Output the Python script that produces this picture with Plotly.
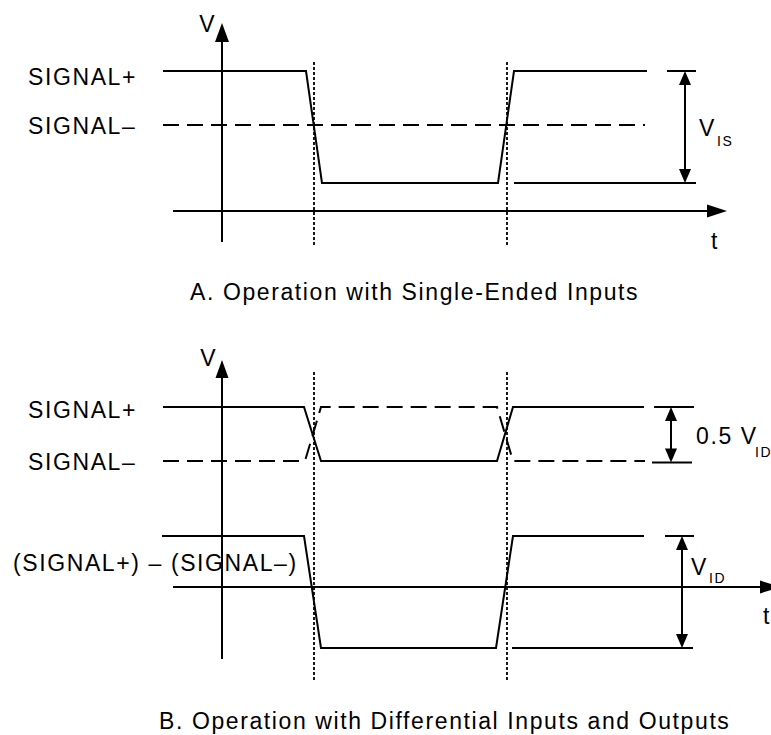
import plotly.graph_objects as go

# ---------------- Data (time: arbitrary units, 0 at the V axis; voltage: arbitrary units, 0 at the t axis)
# Panel A - single-ended inputs
t_a = [-5.9, 8.4, 10.0, 27.6, 29.2, 42.5]
signal_plus_a = [14.0, 14.0, 2.8, 2.8, 14.0, 14.0]
t_ref_a = [-5.9, 42.3]
signal_minus_a = [8.6, 8.6]

# Panel B - differential inputs and outputs
t_b_plus = [-5.9, 8.2, 9.9, 27.5, 29.1, 42.2]
signal_plus_b = [18.0, 18.0, 12.6, 12.6, 18.0, 18.0]
t_b_minus = [-5.9, 8.3, 9.9, 27.5, 29.1, 42.3]
signal_minus_b = [12.6, 12.6, 18.0, 18.0, 12.6, 12.6]
t_b_diff = [-6.0, 8.2, 9.9, 27.4, 29.1, 42.2]
signal_diff_b = [5.1, 5.1, -6.1, -6.1, 5.1, 5.1]

# crossing instants (dotted markers) and their vertical spans
t_cross = [9.2, 28.5]
cross_span_a = [-3.4, 14.9]
cross_span_b = [-9.3, 21.5]

# axis extents
axis_a_t = [-4.9, 50.5]
axis_a_v = [-3.1, 18.8]
axis_b_t = [-4.9, 55.8]
axis_b_v = [-7.2, 22.7]

# dimension markers: position, top level, bottom level, extension lines
dim_vis = dict(t=46.3, top=14.0, bot=2.8, top_ext=[44.5, 47.4], bot_ext=[29.2, 47.4])
dim_half = dict(t=44.9, top=18.0, bot=12.45, top_ext=[43.2, 47.2], bot_ext=[43.0, 47.0])
dim_vid = dict(t=46.0, top=5.1, bot=-6.1, top_ext=[44.3, 47.2], bot_ext=[29.0, 47.1])

# labels
left_labels_a = ["SIGNAL+", "SIGNAL–"]
left_labels_b = ["SIGNAL+", "SIGNAL–", "(SIGNAL+) – (SIGNAL–)"]
caption_a = "A. Operation with Single-Ended Inputs"
caption_b = "B. Operation with Differential Inputs and Outputs"

# ---------------- Figure
W, H = 771, 735
X_RANGE = [-22.2, 54.9]
YA_RANGE = [-52.4, 21.1]
YB_RANGE = [-14.8, 58.7]
FONT = "Liberation Sans, Arial, Helvetica, sans-serif"
BLACK = "#000000"
LW = 2
DASH = "16px,8px"
DOT = "3px,2px"

fig = go.Figure()


def add_line(x, y, yaxis="y", dash="solid", width=LW):
    fig.add_trace(go.Scatter(x=x, y=y, yaxis=yaxis, mode="lines",
                             line=dict(color=BLACK, width=width, dash=dash),
                             hoverinfo="skip", showlegend=False))


shapes = []


def head(t, v, direction, yref="y", size=(14, 19)):
    w, l = size
    hw = w / 2.0
    if direction == "up":
        path = f"M0,0 L{-hw},{-l} L{hw},{-l} Z"
    elif direction == "down":
        path = f"M0,0 L{-hw},{l} L{hw},{l} Z"
    else:  # right
        path = f"M0,0 L{-l},{hw} L{-l},{-hw} Z"
    shapes.append(dict(type="path", xref="x", yref=yref, xsizemode="pixel", ysizemode="pixel",
                       xanchor=t, yanchor=v, path=path, fillcolor=BLACK,
                       line=dict(width=0), layer="above"))


# ---- Panel A
add_line(t_a, signal_plus_a)
add_line(t_ref_a, signal_minus_a, dash=DASH)
for tc in t_cross:
    add_line([tc, tc], cross_span_a, dash=DOT, width=1.8)
add_line([0, 0], [axis_a_v[0], axis_a_v[1] - 1.0])
head(0, axis_a_v[1], "up")
add_line([axis_a_t[0], axis_a_t[1] - 1.0], [0, 0])
head(axis_a_t[1], 0, "right", size=(13, 20))

# V_IS dimension
add_line(dim_vis["top_ext"], [dim_vis["top"]] * 2)
add_line(dim_vis["bot_ext"], [dim_vis["bot"]] * 2)
add_line([dim_vis["t"]] * 2, [dim_vis["bot"] + 0.8, dim_vis["top"] - 0.8])
head(dim_vis["t"], dim_vis["top"], "up", size=(12, 14))
head(dim_vis["t"], dim_vis["bot"], "down", size=(12, 14))

# ---- Panel B
add_line(t_b_plus, signal_plus_b, yaxis="y2")
add_line(t_b_minus, signal_minus_b, yaxis="y2", dash=DASH)
add_line(t_b_diff, signal_diff_b, yaxis="y2")
for tc in t_cross:
    add_line([tc, tc], cross_span_b, yaxis="y2", dash=DOT, width=1.8)
add_line([0, 0], [axis_b_v[0], axis_b_v[1] - 1.0], yaxis="y2")
head(0, axis_b_v[1], "up", yref="y2", size=(13, 18))
add_line([axis_b_t[0], axis_b_t[1] - 1.0], [0, 0], yaxis="y2")
head(axis_b_t[1], 0, "right", yref="y2", size=(13, 20))

# 0.5 V_ID dimension
add_line(dim_half["top_ext"], [dim_half["top"]] * 2, yaxis="y2")
add_line(dim_half["bot_ext"], [dim_half["bot"]] * 2, yaxis="y2")
add_line([dim_half["t"]] * 2, [dim_half["bot"] + 0.8, dim_half["top"] - 0.8], yaxis="y2")
head(dim_half["t"], dim_half["top"], "up", yref="y2", size=(12, 14))
head(dim_half["t"], dim_half["bot"], "down", yref="y2", size=(12, 14))

# V_ID dimension
add_line(dim_vid["top_ext"], [dim_vid["top"]] * 2, yaxis="y2")
add_line(dim_vid["bot_ext"], [dim_vid["bot"]] * 2, yaxis="y2")
add_line([dim_vid["t"]] * 2, [dim_vid["bot"] + 0.8, dim_vid["top"] - 0.8], yaxis="y2")
head(dim_vid["t"], dim_vid["top"], "up", yref="y2", size=(12, 14))
head(dim_vid["t"], dim_vid["bot"], "down", yref="y2", size=(12, 14))

# ---- Text
annotations = []


def label(text, px, py, size=23, anchor="left"):
    annotations.append(dict(text=text, x=px / W, y=1 - py / H, xref="paper", yref="paper",
                            xanchor=anchor, yanchor="middle", align=anchor if anchor != "center" else "center",
                            showarrow=False, borderpad=0,
                            font=dict(family=FONT, size=size, color=BLACK)))


label("V", 208, 24, anchor="center")
label(left_labels_a[0], 27, 76.5)
label(left_labels_a[1], 27, 126)
label("V", 698, 128.5)
label("IS", 716, 141, size=14)
label("t", 710, 241)
label(caption_a, 189, 292)

label("V", 209, 358, anchor="center")
label(left_labels_b[0], 27, 410)
label(left_labels_b[1], 27, 462)
label("0.5 V", 695, 436)
label("ID", 754, 452, size=14)
label(left_labels_b[2], 12, 563)
label("V", 690, 566.5)
label("ID", 708, 578, size=14)
label("t", 762, 616)
label(caption_b, 158, 721)

fig.update_layout(
    width=W, height=H, autosize=False,
    margin=dict(l=0, r=0, t=0, b=0, pad=0),
    paper_bgcolor="white", plot_bgcolor="white",
    xaxis=dict(range=X_RANGE, visible=False, fixedrange=True),
    yaxis=dict(range=YA_RANGE, visible=False, domain=[0, 1], fixedrange=True),
    yaxis2=dict(range=YB_RANGE, visible=False, domain=[0, 1], overlaying="y", fixedrange=True),
    showlegend=False,
    font=dict(family=FONT, color=BLACK, size=23),
    shapes=shapes,
    annotations=annotations,
)

JS = """
document.documentElement.style.margin = '0';
document.documentElement.style.padding = '0';
document.body.style.margin = '0';
document.body.style.padding = '0';
document.body.style.overflow = 'hidden';
var gd = document.getElementById('{plot_id}');
function spacing(){
  gd.querySelectorAll('.annotation-text').forEach(function(t){ t.style.letterSpacing = '1.6px'; });
}
spacing();
setTimeout(spacing, 30);
"""

fig.write_html("out.html", config={"displayModeBar": False, "staticPlot": True}, post_script=JS)
